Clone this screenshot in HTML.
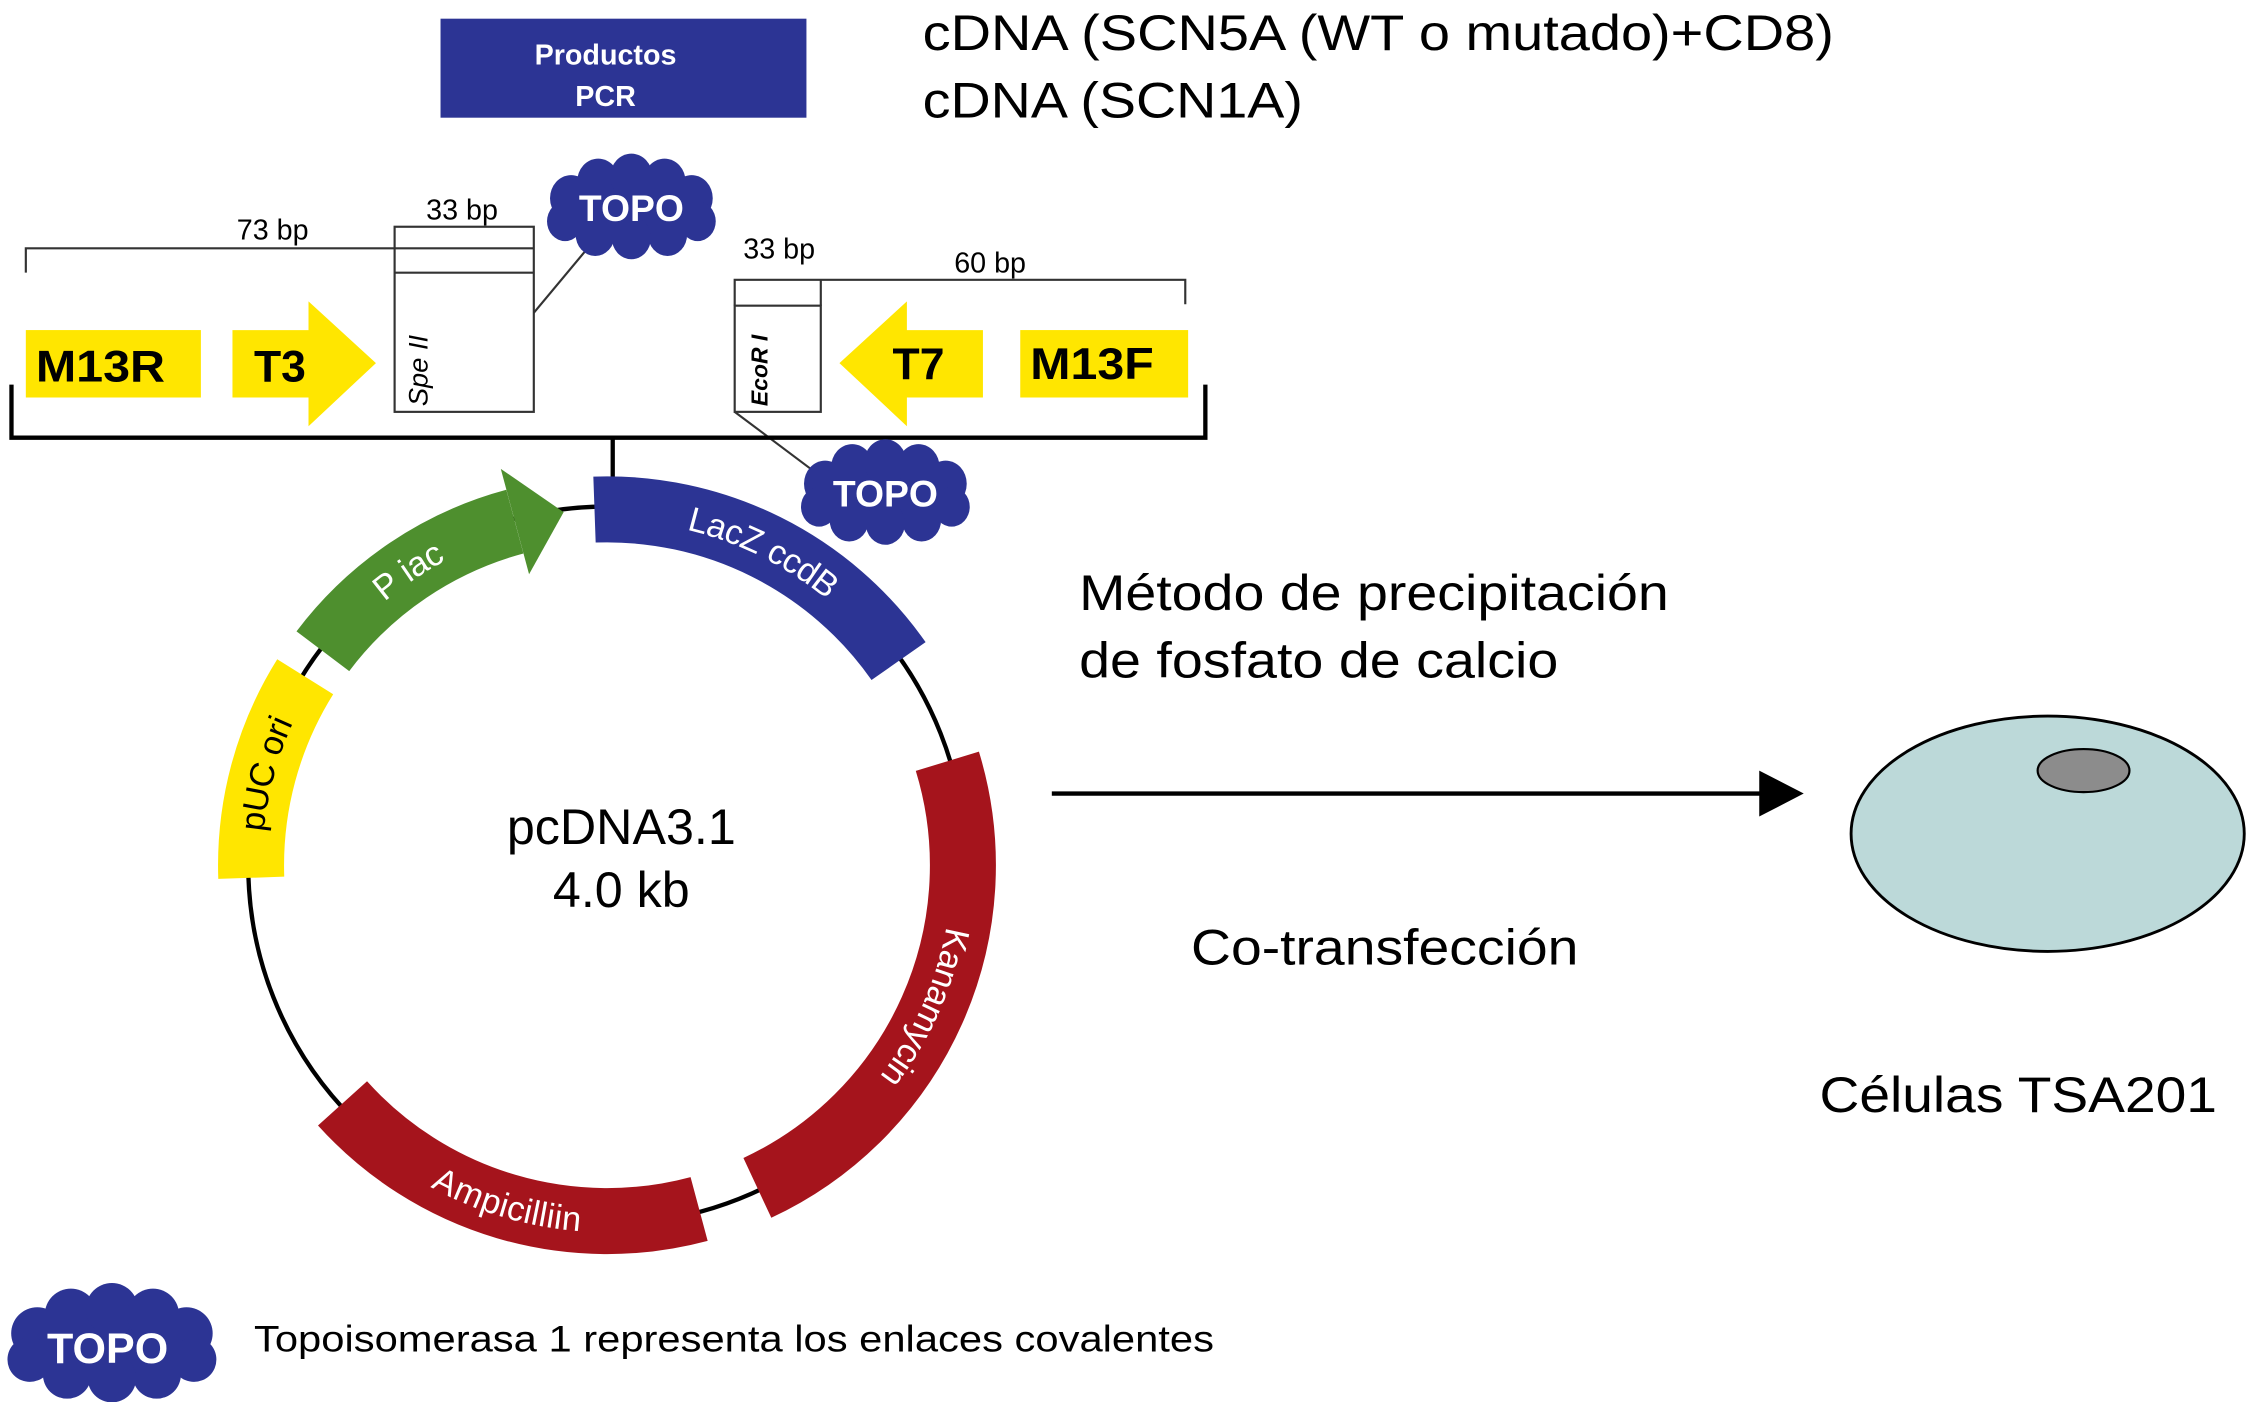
<!DOCTYPE html>
<html><head><meta charset="utf-8"><style>
html,body{margin:0;padding:0;background:#fff;}
svg{display:block;}
text{font-family:"Liberation Sans",sans-serif;}
</style></head><body>
<svg width="2250" height="1402" viewBox="0 0 1568 977" xmlns="http://www.w3.org/2000/svg">
<defs>
<g id="cloud">
<ellipse cx="0" cy="0" rx="52" ry="20"/>
<circle cx="-40" cy="-6" r="14"/><circle cx="-22" cy="-16" r="14"/><circle cx="0" cy="-19" r="14"/>
<circle cx="22" cy="-16" r="14"/><circle cx="40" cy="-6" r="14"/><circle cx="44" cy="8" r="12"/>
<circle cx="24" cy="16" r="13"/><circle cx="0" cy="18" r="13"/><circle cx="-24" cy="16" r="13"/><circle cx="-44" cy="8" r="12"/>
</g>
<path id="pLac" d="M414.3,355.1 A248,248 0 0 1 626.2,460.7"/>
<path id="pKan" d="M660.2,530.5 A248,248 0 0 1 527.8,827.8"/>
<path id="pAmp" d="M238.7,768.9 A248,248 0 0 0 487.2,842.5"/>
<path id="pUC" d="M175.1,611.7 A248,248 0 0 1 212.7,471.6"/>
<path id="pPiac" d="M225,453.8 A248,248 0 0 1 358.8,363.5"/>
</defs>

<rect x="307" y="13" width="255" height="69" fill="#2c3494"/>
<text x="422" y="45" fill="#fff" font-size="20" font-weight="bold" text-anchor="middle">Productos</text>
<text x="422" y="74" fill="#fff" font-size="20" font-weight="bold" text-anchor="middle">PCR</text>
<text x="643" y="35" font-size="35" textLength="635" lengthAdjust="spacingAndGlyphs">cDNA (SCN5A (WT o mutado)+CD8)</text>
<text x="643" y="82" font-size="35" textLength="265" lengthAdjust="spacingAndGlyphs">cDNA (SCN1A)</text>

<g stroke="#333" stroke-width="1.5" fill="none">
<path d="M18,190 V173 H372"/>
<rect x="275" y="158" width="97" height="129" fill="#fff"/>
<line x1="275" y1="173" x2="372" y2="173"/>
<line x1="275" y1="190" x2="372" y2="190"/>
<path d="M512,213 V195 H826 V212"/>
<rect x="512" y="213" width="60" height="74" fill="#fff"/>
<line x1="572" y1="195" x2="572" y2="213"/>
<line x1="372" y1="218" x2="412" y2="170"/>
<line x1="512" y1="287" x2="572" y2="332"/>
</g>
<text x="190" y="167" font-size="20" text-anchor="middle">73 bp</text>
<text x="322" y="153" font-size="20" text-anchor="middle">33 bp</text>
<text x="543" y="180" font-size="20" text-anchor="middle">33 bp</text>
<text x="690" y="190" font-size="20" text-anchor="middle">60 bp</text>
<text transform="translate(298,283) rotate(-90)" font-size="19" font-style="italic">Spe II</text>
<text transform="translate(535,283) rotate(-90)" font-size="16" font-style="italic" font-weight="bold">EcoR I</text>

<g fill="#ffe600">
<rect x="18" y="230" width="122" height="47"/>
<polygon points="162,230 215,230 215,210 262,253 215,297 215,277 162,277"/>
<polygon points="685,230 632,230 632,210 585,253 632,297 632,277 685,277"/>
<rect x="711" y="230" width="117" height="47"/>
</g>
<g font-size="31" font-weight="bold">
<text x="25" y="266" textLength="90" lengthAdjust="spacingAndGlyphs">M13R</text>
<text x="177" y="266">T3</text>
<text x="622" y="264">T7</text>
<text x="718" y="264" textLength="86" lengthAdjust="spacingAndGlyphs">M13F</text>
</g>

<g stroke="#000" stroke-width="3" fill="none">
<path d="M8,268 V305 H840 V268"/>
<line x1="427" y1="305" x2="427" y2="345"/>
</g>

<g fill="#2c3494"><use href="#cloud" transform="translate(440,145) scale(1.05,1.15)"/></g>
<text x="440" y="154" fill="#fff" font-size="26" font-weight="bold" text-anchor="middle">TOPO</text>
<g fill="#2c3494"><use href="#cloud" transform="translate(617,344) scale(1.05,1.15)"/></g>
<text x="617" y="353" fill="#fff" font-size="26" font-weight="bold" text-anchor="middle">TOPO</text>
<g fill="#2c3494"><use href="#cloud" transform="translate(78,937) scale(1.3,1.3)"/></g>
<text x="75" y="950" fill="#fff" font-size="30" font-weight="bold" text-anchor="middle">TOPO</text>
<text x="177" y="942" font-size="26" textLength="669" lengthAdjust="spacingAndGlyphs">Topoisomerasa 1 representa los enlaces covalentes</text>

<circle cx="423" cy="603" r="250" fill="none" stroke="#000" stroke-width="3"/>
<g fill="none" stroke-width="46">
<use href="#pLac" stroke="#2c3494"/>
<use href="#pKan" stroke="#a5141c"/>
<use href="#pAmp" stroke="#a5141c"/>
<use href="#pUC" stroke="#ffe600"/>
<use href="#pPiac" stroke="#4e8f2e"/>
</g>
<polygon points="349,326.7 392.8,356.9 368.7,400.2" fill="#4e8f2e"/>
<g font-size="24" fill="#fff" dominant-baseline="central">
<text><textPath href="#pLac" startOffset="50%" text-anchor="middle">LacZ ccdB</textPath></text>
<text><textPath href="#pKan" startOffset="50%" text-anchor="middle">Kanamycin</textPath></text>
<text><textPath href="#pAmp" startOffset="50%" text-anchor="middle">Ampicilliin</textPath></text>
<text fill="#000"><textPath href="#pUC" startOffset="50%" text-anchor="middle">pUC ori</textPath></text>
<text><textPath href="#pPiac" startOffset="50%" text-anchor="middle">P iac</textPath></text>
</g>
<text x="433" y="588" font-size="35" text-anchor="middle">pcDNA3.1</text>
<text x="433" y="632" font-size="35" text-anchor="middle">4.0 kb</text>

<text x="752" y="425" font-size="35" textLength="411" lengthAdjust="spacingAndGlyphs">Método de precipitación</text>
<text x="752" y="472" font-size="35" textLength="334" lengthAdjust="spacingAndGlyphs">de fosfato de calcio</text>
<line x1="733" y1="553" x2="1228" y2="553" stroke="#000" stroke-width="3"/>
<polygon points="1226,537 1257,553 1226,569" fill="#000"/>
<text x="830" y="672" font-size="35" textLength="270" lengthAdjust="spacingAndGlyphs">Co-transfección</text>
<ellipse cx="1427" cy="581" rx="137" ry="82" fill="#bcd9d9" stroke="#000" stroke-width="2"/>
<ellipse cx="1452" cy="537" rx="32" ry="15" fill="#8c8c8c" stroke="#000" stroke-width="1.5"/>
<text x="1268" y="775" font-size="35" textLength="277" lengthAdjust="spacingAndGlyphs">Células TSA201</text>
</svg>
</body></html>
